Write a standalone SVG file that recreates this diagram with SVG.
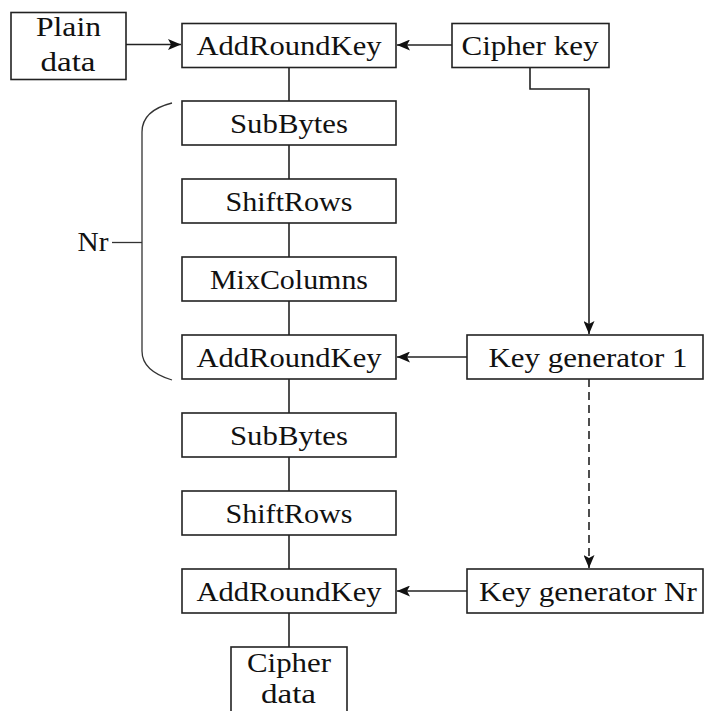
<svg xmlns="http://www.w3.org/2000/svg" width="704" height="711" viewBox="0 0 704 711">
<defs>
<style>
.box{fill:#fff;stroke:#222;stroke-width:1.6}
.t{font-family:"Liberation Serif","DejaVu Serif",serif;font-size:28px;fill:#111;text-anchor:middle}
.ln{fill:none;stroke:#222;stroke-width:1.6}
.dash{stroke-dasharray:8 5}
.brace{fill:none;stroke:#333;stroke-width:1.3}
</style>
<marker id="arr" viewBox="0 0 13 11" refX="13" refY="5.5" markerWidth="13" markerHeight="11" markerUnits="userSpaceOnUse" orient="auto">
<path d="M0,0 L13,5.5 L0,11 L3,5.5 Z" fill="#111"/>
</marker>
</defs>
<rect width="704" height="711" fill="#fff"/>
<g id="connectors">
<line class="ln" x1="289" y1="67" x2="289" y2="101"/>
<line class="ln" x1="289" y1="145" x2="289" y2="179"/>
<line class="ln" x1="289" y1="223" x2="289" y2="257"/>
<line class="ln" x1="289" y1="301" x2="289" y2="335"/>
<line class="ln" x1="289" y1="379" x2="289" y2="413"/>
<line class="ln" x1="289" y1="457" x2="289" y2="491"/>
<line class="ln" x1="289" y1="535" x2="289" y2="569"/>
<line class="ln" x1="289" y1="613" x2="289" y2="647"/>
<line class="ln" x1="126" y1="44.5" x2="181" y2="44.5" marker-end="url(#arr)"/>
<line class="ln" x1="452" y1="45" x2="397" y2="45" marker-end="url(#arr)"/>
<polyline class="ln" points="530,67 530,89 589,89 589,334" marker-end="url(#arr)"/>
<line class="ln" x1="467" y1="357" x2="397" y2="357" marker-end="url(#arr)"/>
<line class="ln dash" x1="589" y1="379" x2="589" y2="568" marker-end="url(#arr)"/>
<line class="ln" x1="467" y1="591" x2="397" y2="591" marker-end="url(#arr)"/>
</g>
<g id="brace">
<path class="brace" d="M172,103 C152,108 142,118 142,132 L142,351 C142,365 152,374 172,380"/>
<line class="brace" x1="112" y1="242.5" x2="142" y2="242.5"/>
<text class="t" x="93" y="251" textLength="31" lengthAdjust="spacingAndGlyphs">Nr</text>
</g>
<g id="plain-data">
<rect class="box" x="11" y="12.5" width="115" height="67"/>
<text class="t" x="68.5" y="36" textLength="65" lengthAdjust="spacingAndGlyphs">Plain</text>
<text class="t" x="68" y="71" textLength="55" lengthAdjust="spacingAndGlyphs">data</text>
</g>
<g id="addroundkey-0">
<rect class="box" x="182" y="23.5" width="214" height="44"/>
<text class="t" x="289" y="54.5" textLength="185" lengthAdjust="spacingAndGlyphs">AddRoundKey</text>
</g>
<g id="cipher-key">
<rect class="box" x="452" y="23.5" width="157" height="44"/>
<text class="t" x="530" y="54.5" textLength="137" lengthAdjust="spacingAndGlyphs">Cipher key</text>
</g>
<g id="subbytes-1">
<rect class="box" x="182" y="101" width="214" height="44"/>
<text class="t" x="289" y="132.5" textLength="118" lengthAdjust="spacingAndGlyphs">SubBytes</text>
</g>
<g id="shiftrows-1">
<rect class="box" x="182" y="179" width="214" height="44"/>
<text class="t" x="289" y="210.5" textLength="127" lengthAdjust="spacingAndGlyphs">ShiftRows</text>
</g>
<g id="mixcolumns">
<rect class="box" x="182" y="257" width="214" height="44"/>
<text class="t" x="289" y="288.5" textLength="158" lengthAdjust="spacingAndGlyphs">MixColumns</text>
</g>
<g id="addroundkey-1">
<rect class="box" x="182" y="335" width="214" height="44"/>
<text class="t" x="289" y="366.5" textLength="185" lengthAdjust="spacingAndGlyphs">AddRoundKey</text>
</g>
<g id="key-generator-1">
<rect class="box" x="467" y="335" width="236" height="44"/>
<text class="t" x="588" y="366.5" textLength="199" lengthAdjust="spacingAndGlyphs">Key generator 1</text>
</g>
<g id="subbytes-2">
<rect class="box" x="182" y="413" width="214" height="44"/>
<text class="t" x="289" y="444.5" textLength="118" lengthAdjust="spacingAndGlyphs">SubBytes</text>
</g>
<g id="shiftrows-2">
<rect class="box" x="182" y="491" width="214" height="44"/>
<text class="t" x="289" y="522.5" textLength="127" lengthAdjust="spacingAndGlyphs">ShiftRows</text>
</g>
<g id="addroundkey-2">
<rect class="box" x="182" y="569" width="214" height="44"/>
<text class="t" x="289" y="600.5" textLength="185" lengthAdjust="spacingAndGlyphs">AddRoundKey</text>
</g>
<g id="key-generator-nr">
<rect class="box" x="467" y="569" width="236" height="44"/>
<text class="t" x="588" y="600.5" textLength="218" lengthAdjust="spacingAndGlyphs">Key generator Nr</text>
</g>
<g id="cipher-data">
<rect class="box" x="231" y="647" width="116" height="80"/>
<text class="t" x="289" y="672" textLength="84" lengthAdjust="spacingAndGlyphs">Cipher</text>
<text class="t" x="288.5" y="703" textLength="55" lengthAdjust="spacingAndGlyphs">data</text>
</g>
</svg>
